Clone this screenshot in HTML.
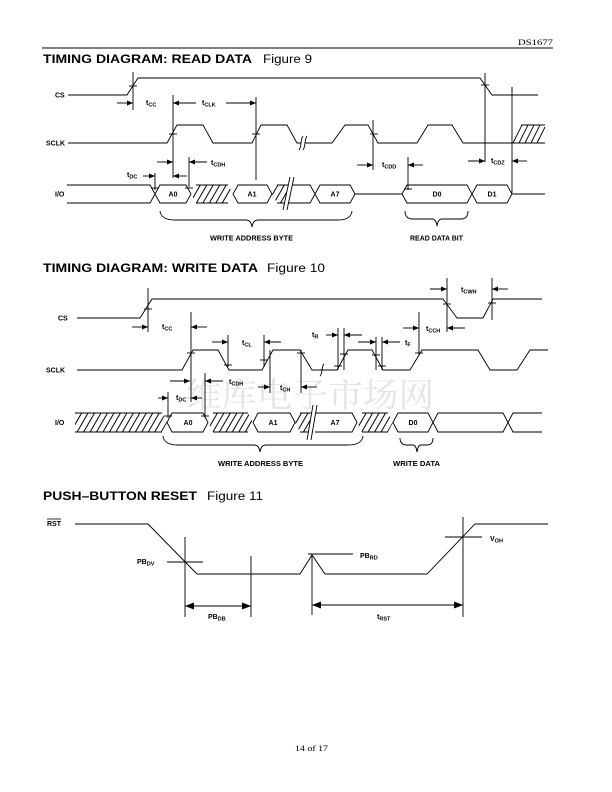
<!DOCTYPE html>
<html><head><meta charset="utf-8"><style>
html,body{margin:0;padding:0;background:#fff}
svg{display:block}
.ln{stroke:#000;stroke-width:0.9;fill:none}
.lb{font-family:"Liberation Sans",Arial,sans-serif;font-weight:bold;font-size:7px;fill:#000}
.sb{font-size:5.5px}
.ti{font-family:"Liberation Sans",Arial,sans-serif;font-size:11.5px;fill:#000}
</style></head><body>
<svg width="612" height="792" viewBox="0 0 612 792" xmlns="http://www.w3.org/2000/svg">
<defs>
<marker id="a" viewBox="0 0 6 5" markerWidth="6" markerHeight="5" refX="6" refY="2.5" orient="auto" markerUnits="userSpaceOnUse"><path d="M0,0L6,2.5L0,5z" fill="#000"/></marker>
<marker id="b" viewBox="0 0 9 7" markerWidth="9" markerHeight="7" refX="9" refY="3.5" orient="auto" markerUnits="userSpaceOnUse"><path d="M0,0L9,3.5L0,7z" fill="#000"/></marker>
<pattern id="h" width="5.6" height="10" patternUnits="userSpaceOnUse" patternTransform="rotate(30)"><line x1="2.8" y1="0" x2="2.8" y2="10" stroke="#000" stroke-width="1"/></pattern>
</defs>
<rect width="612" height="792" fill="#fff"/>

<!-- watermark -->
<text x="186" y="407" textLength="248" lengthAdjust="spacingAndGlyphs" style="font-family:'Liberation Serif','Noto Serif CJK SC',serif;font-size:34px;fill:#e4e4e4">维库电子市场网</text>

<!-- header -->
<text x="518" y="45" textLength="35" lengthAdjust="spacingAndGlyphs" style="font-family:'Liberation Serif',serif;font-size:8.5px">DS1677</text>
<line x1="42" y1="48" x2="553" y2="48" stroke="#000" stroke-width="1"/>

<!-- ===== Figure 9 ===== -->
<text class="ti" x="43" y="63" font-weight="bold" textLength="209" lengthAdjust="spacingAndGlyphs">TIMING DIAGRAM: READ DATA</text>
<text class="ti" x="263" y="63" textLength="49" lengthAdjust="spacingAndGlyphs">Figure 9</text>

<text class="lb" x="55" y="97.5">CS</text>
<text class="lb" x="46" y="145.5">SCLK</text>
<text class="lb" x="55" y="196.5">I/O</text>

<polyline class="ln" points="68,95 127,95 138,78 480,78 492,95 538,95"/>
<polyline class="ln" points="68,143 167,143 177,125 203,125 213,143 252,143 261,125 287,125 297,143 332,143 345,125 368,125 378,143 417,143 428,125 452,125 463,143 545,143"/>
<!-- sclk break -->
<rect x="301" y="140" width="4" height="6" fill="#fff"/>
<path class="ln" d="M299,150 C302,146 300,140 303,136"/>
<path class="ln" d="M303,150 C306,146 304,140 307,136"/>
<!-- hatch sclk right -->
<line class="ln" x1="521" y1="125" x2="545" y2="125"/>
<g class="ln"><line x1="513" y1="143" x2="522" y2="125"/><line x1="519" y1="143" x2="528" y2="125"/><line x1="525" y1="143" x2="534" y2="125"/><line x1="531" y1="143" x2="540" y2="125"/><line x1="537" y1="143" x2="545" y2="127"/></g>

<!-- verticals fig9 -->
<g class="ln">
<line x1="133" y1="72" x2="133" y2="110"/>
<line x1="173" y1="95" x2="173" y2="178"/>
<line x1="256" y1="97" x2="256" y2="180"/>
<line x1="189" y1="157" x2="189" y2="187"/>
<line x1="155" y1="173" x2="155" y2="190"/>
<line x1="373" y1="120" x2="373" y2="170"/>
<line x1="408" y1="157" x2="408" y2="190"/>
<line x1="485" y1="73" x2="485" y2="162"/>
<line x1="512" y1="87" x2="512" y2="193"/>
</g>
<!-- ticks fig9 -->
<g class="ln">
<line x1="129" y1="86" x2="137" y2="86"/>
<line x1="169" y1="134" x2="177" y2="134"/>
<line x1="252" y1="134" x2="260" y2="134"/>
<line x1="370" y1="134" x2="378" y2="134"/>
<line x1="481" y1="85" x2="489" y2="85"/>
<line x1="151" y1="188" x2="159" y2="188"/>
<line x1="185" y1="188" x2="193" y2="188"/>
<line x1="404" y1="189" x2="412" y2="189"/>
</g>
<!-- arrows fig9 -->
<g class="ln">
<line x1="117" y1="103" x2="133" y2="103" marker-end="url(#a)"/>
<line x1="196" y1="103" x2="173" y2="103" marker-end="url(#a)"/>
<line x1="226" y1="103" x2="256" y2="103" marker-end="url(#a)"/>
<line x1="157" y1="162" x2="173" y2="162" marker-end="url(#a)"/>
<line x1="207" y1="162" x2="189" y2="162" marker-end="url(#a)"/>
<line x1="143" y1="176" x2="155" y2="176" marker-end="url(#a)"/>
<line x1="187" y1="176" x2="173" y2="176" marker-end="url(#a)"/>
<line x1="357" y1="165" x2="373" y2="165" marker-end="url(#a)"/>
<line x1="423" y1="165" x2="408" y2="165" marker-end="url(#a)"/>
<line x1="468" y1="161" x2="485" y2="161" marker-end="url(#a)"/>
<line x1="527" y1="161" x2="512" y2="161" marker-end="url(#a)"/>
</g>
<text class="lb" x="146" y="105">t<tspan class="sb" dy="1.5">CC</tspan></text>
<text class="lb" x="202" y="105">t<tspan class="sb" dy="1.5">CLK</tspan></text>
<text class="lb" x="211" y="165">t<tspan class="sb" dy="1.5">CDH</tspan></text>
<text class="lb" x="127" y="177">t<tspan class="sb" dy="1.5">DC</tspan></text>
<text class="lb" x="382" y="167">t<tspan class="sb" dy="1.5">CDD</tspan></text>
<text class="lb" x="491" y="163">t<tspan class="sb" dy="1.5">CDZ</tspan></text>

<!-- I/O fig9 -->
<polygon points="191,194 196,185 228,185 233,194 228,203 196,203" fill="url(#h)"/>
<polygon points="272,194 277,185 287,185 287,203 277,203" fill="url(#h)"/>
<g class="ln">
<path d="M67,185 L150,185 L155,194 L150,203 L67,203"/>
<polygon points="155,194 160,185 186,185 191,194 186,203 160,203"/>
<path d="M196,185 L228,185 M196,203 L228,203"/>
<polygon points="233,194 238,185 267,185 272,194 267,203 238,203"/>
<path d="M277,185 L289,185 M277,203 L289,203"/>
<path d="M289,185 L310,185 L315,194 L310,203 L289,203"/>
<polygon points="315,194 320,185 350,185 355,194 350,203 320,203"/>
<line x1="355" y1="194" x2="402" y2="194"/>
<polygon points="402,194 407,185 467,185 472,194 467,203 407,203"/>
<polygon points="472,194 477,185 507,185 512,194 507,203 477,203"/>
<line x1="512" y1="194" x2="545" y2="194"/>
</g>
<polygon points="283,210 290,177 294,177 287,210" fill="#fff"/>
<line class="ln" x1="283" y1="210" x2="290" y2="177"/>
<line class="ln" x1="287" y1="210" x2="294" y2="177"/>
<text class="lb" x="173" y="196.5" text-anchor="middle">A0</text>
<text class="lb" x="252" y="196.5" text-anchor="middle">A1</text>
<text class="lb" x="335" y="196.5" text-anchor="middle">A7</text>
<text class="lb" x="437" y="196.5" text-anchor="middle">D0</text>
<text class="lb" x="492" y="196.5" text-anchor="middle">D1</text>
<!-- braces fig9 -->
<path class="ln" d="M160,211 Q161,220 175,220 L246,220 Q251,220 252,227 Q253,220 258,220 L338,220 Q351,220 352,211"/>
<path class="ln" d="M405,211 Q405,219 413,219 L432,219 Q436,219 437,226 Q438,219 442,219 L461,219 Q468,219 468,211"/>
<text class="lb" x="210" y="240.5" textLength="83" lengthAdjust="spacingAndGlyphs">WRITE ADDRESS BYTE</text>
<text class="lb" x="410" y="240.5" textLength="53" lengthAdjust="spacingAndGlyphs">READ DATA BIT</text>

<!-- ===== Figure 10 ===== -->
<text class="ti" x="43" y="272" font-weight="bold" textLength="215" lengthAdjust="spacingAndGlyphs">TIMING DIAGRAM: WRITE DATA</text>
<text class="ti" x="267" y="272" textLength="58" lengthAdjust="spacingAndGlyphs">Figure 10</text>

<text class="lb" x="58" y="320.5">CS</text>
<text class="lb" x="46" y="372.5">SCLK</text>
<text class="lb" x="55" y="425">I/O</text>

<polyline class="ln" points="77,318 140,318 152,299 443,299 457,318 483,318 493,299 542,299"/>
<polyline class="ln" points="77,370 182,370 193,350 218,350 229,370 262,370 273,350 300,350 312,370 337,370 348,350 372,350 383,370 410,370 422,350 478,350 490,370 517,370 530,350 548,350"/>
<path class="ln" d="M320,376 C323,373 321,367 324,364"/>

<g class="ln">
<line x1="148" y1="288" x2="148" y2="332"/>
<line x1="191" y1="312" x2="191" y2="402"/>
<line x1="228" y1="335" x2="228" y2="367"/>
<line x1="264" y1="335" x2="264" y2="367"/>
<line x1="270" y1="350" x2="270" y2="393"/>
<line x1="301" y1="350" x2="301" y2="393"/>
<line x1="338" y1="328" x2="338" y2="370"/>
<line x1="344" y1="328" x2="344" y2="370"/>
<line x1="376" y1="337" x2="376" y2="370"/>
<line x1="382" y1="337" x2="382" y2="370"/>
<line x1="419" y1="312" x2="419" y2="355"/>
<line x1="447" y1="278" x2="447" y2="332"/>
<line x1="492" y1="278" x2="492" y2="320"/>
<line x1="205" y1="373" x2="205" y2="418"/>
<line x1="168" y1="392" x2="168" y2="418"/>
</g>
<g class="ln">
<line x1="144" y1="309" x2="152" y2="309"/>
<line x1="187" y1="353" x2="195" y2="353"/>
<line x1="224" y1="365" x2="232" y2="365"/>
<line x1="260" y1="360" x2="268" y2="360"/>
<line x1="297" y1="353" x2="305" y2="353"/>
<line x1="334" y1="366" x2="342" y2="366"/>
<line x1="340" y1="354" x2="348" y2="354"/>
<line x1="372" y1="355" x2="380" y2="355"/>
<line x1="378" y1="366" x2="386" y2="366"/>
<line x1="415" y1="353" x2="423" y2="353"/>
<line x1="443" y1="304" x2="451" y2="304"/>
<line x1="488" y1="303" x2="496" y2="303"/>
<line x1="164" y1="416" x2="172" y2="416"/>
<line x1="201" y1="416" x2="209" y2="416"/>
</g>
<g class="ln">
<line x1="132" y1="327" x2="148" y2="327" marker-end="url(#a)"/>
<line x1="207" y1="327" x2="191" y2="327" marker-end="url(#a)"/>
<line x1="212" y1="342" x2="228" y2="342" marker-end="url(#a)"/>
<line x1="281" y1="342" x2="264" y2="342" marker-end="url(#a)"/>
<line x1="258" y1="387" x2="270" y2="387" marker-end="url(#a)"/>
<line x1="317" y1="387" x2="301" y2="387" marker-end="url(#a)"/>
<line x1="326" y1="335" x2="338" y2="335" marker-end="url(#a)"/>
<line x1="362" y1="335" x2="344" y2="335" marker-end="url(#a)"/>
<line x1="358" y1="342" x2="376" y2="342" marker-end="url(#a)"/>
<line x1="400" y1="342" x2="382" y2="342" marker-end="url(#a)"/>
<line x1="403" y1="328" x2="419" y2="328" marker-end="url(#a)"/>
<line x1="465" y1="328" x2="447" y2="328" marker-end="url(#a)"/>
<line x1="430" y1="289" x2="447" y2="289" marker-end="url(#a)"/>
<line x1="508" y1="289" x2="492" y2="289" marker-end="url(#a)"/>
<line x1="170" y1="381" x2="190" y2="381" marker-end="url(#a)"/>
<line x1="223" y1="381" x2="205" y2="381" marker-end="url(#a)"/>
<line x1="158" y1="398" x2="168" y2="398" marker-end="url(#a)"/>
<line x1="202" y1="398" x2="191" y2="398" marker-end="url(#a)"/>
</g>
<text class="lb" x="162" y="329">t<tspan class="sb" dy="1.5">CC</tspan></text>
<text class="lb" x="242" y="345">t<tspan class="sb" dy="1.5">CL</tspan></text>
<text class="lb" x="280" y="390">t<tspan class="sb" dy="1.5">CH</tspan></text>
<text class="lb" x="312" y="337">t<tspan class="sb" dy="1.5">R</tspan></text>
<text class="lb" x="405" y="345">t<tspan class="sb" dy="1.5">F</tspan></text>
<text class="lb" x="426" y="331">t<tspan class="sb" dy="1.5">CCH</tspan></text>
<text class="lb" x="461" y="292">t<tspan class="sb" dy="1.5">CWH</tspan></text>
<text class="lb" x="229" y="384">t<tspan class="sb" dy="1.5">CDH</tspan></text>
<text class="lb" x="176" y="400">t<tspan class="sb" dy="1.5">DC</tspan></text>

<!-- I/O fig10 -->
<polygon points="75,413 162,413 167,422.5 162,432 75,432" fill="url(#h)"/>
<polygon points="208,422.5 213,413 248,413 253,422.5 248,432 213,432" fill="url(#h)"/>
<polygon points="295,422.5 300,413 312,413 312,432 300,432" fill="url(#h)"/>
<polygon points="357,422.5 362,413 388,413 393,422.5 388,432 362,432" fill="url(#h)"/>
<g class="ln">
<path d="M75,413 L162,413 M75,432 L162,432"/>
<polygon points="167,422.5 172,413 203,413 208,422.5 203,432 172,432"/>
<path d="M213,413 L248,413 M213,432 L248,432"/>
<polygon points="253,422.5 258,413 290,413 295,422.5 290,432 258,432"/>
<path d="M300,413 L313,413 M300,432 L313,432"/>
<path d="M315,413 L352,413 L357,422.5 L352,432 L315,432"/>
<path d="M362,413 L388,413 M362,432 L388,432"/>
<polygon points="393,422.5 398,413 428,413 433,422.5 428,432 398,432"/>
<polygon points="433,422.5 438,413 503,413 508,422.5 503,432 438,432"/>
<path d="M542,413 L513,413 L508,422.5 L513,432 L542,432"/>
</g>
<polygon points="307,440 313,405 317,405 311,440" fill="#fff"/>
<line class="ln" x1="307" y1="440" x2="313" y2="405"/>
<line class="ln" x1="311" y1="440" x2="317" y2="405"/>
<text class="lb" x="188" y="425" text-anchor="middle">A0</text>
<text class="lb" x="273" y="425" text-anchor="middle">A1</text>
<text class="lb" x="335" y="425" text-anchor="middle">A7</text>
<text class="lb" x="413" y="425" text-anchor="middle">D0</text>
<path class="ln" d="M163,436 Q164,445 178,445 L254,445 Q259,445 260,452 Q261,445 266,445 L348,445 Q362,445 363,436"/>
<path class="ln" d="M400,438 Q400,445 407,445 L413,445 Q416,445 417,452 Q418,445 421,445 L427,445 Q433,445 433,438"/>
<text class="lb" x="218" y="466" textLength="85" lengthAdjust="spacingAndGlyphs">WRITE ADDRESS BYTE</text>
<text class="lb" x="393" y="466" textLength="47" lengthAdjust="spacingAndGlyphs">WRITE DATA</text>

<!-- ===== Figure 11 ===== -->
<text class="ti" x="43" y="500" font-weight="bold" textLength="154" lengthAdjust="spacingAndGlyphs">PUSH–BUTTON RESET</text>
<text class="ti" x="207" y="500" textLength="56" lengthAdjust="spacingAndGlyphs">Figure 11</text>

<text class="lb" x="47" y="526">RST</text>
<line x1="47" y1="519" x2="61" y2="519" stroke="#000" stroke-width="0.8"/>
<polyline class="ln" points="75,524 148,524 197,574 300,574 312,555 325,574 427,574 475,524 548,524"/>
<g class="ln">
<line x1="167" y1="562" x2="203" y2="562"/>
<line x1="185" y1="537" x2="185" y2="617"/>
<line x1="251" y1="556" x2="251" y2="617"/>
<line x1="312" y1="554" x2="312" y2="615"/>
<line x1="308" y1="554" x2="353" y2="554"/>
<line x1="463" y1="517" x2="463" y2="617"/>
<line x1="445" y1="537" x2="482" y2="537"/>
<line x1="218" y1="606" x2="185" y2="606" marker-end="url(#b)"/>
<line x1="218" y1="606" x2="251" y2="606" marker-end="url(#b)"/>
<line x1="387" y1="605" x2="312" y2="605" marker-end="url(#b)"/>
<line x1="387" y1="605" x2="463" y2="605" marker-end="url(#b)"/>
</g>
<text class="lb" x="137" y="564">PB<tspan class="sb" dy="1.5">DV</tspan></text>
<text class="lb" x="208" y="619">PB<tspan class="sb" dy="1.5">DB</tspan></text>
<text class="lb" x="360" y="558">PB<tspan class="sb" dy="1.5">RD</tspan></text>
<text class="lb" x="490" y="541">V<tspan class="sb" dy="1.5">OH</tspan></text>
<text class="lb" x="377" y="619">t<tspan class="sb" dy="1.5">RST</tspan></text>

<!-- footer -->
<text x="295" y="751" textLength="33" lengthAdjust="spacingAndGlyphs" style="font-family:'Liberation Serif',serif;font-size:8.5px">14 of 17</text>
</svg>
</body></html>
